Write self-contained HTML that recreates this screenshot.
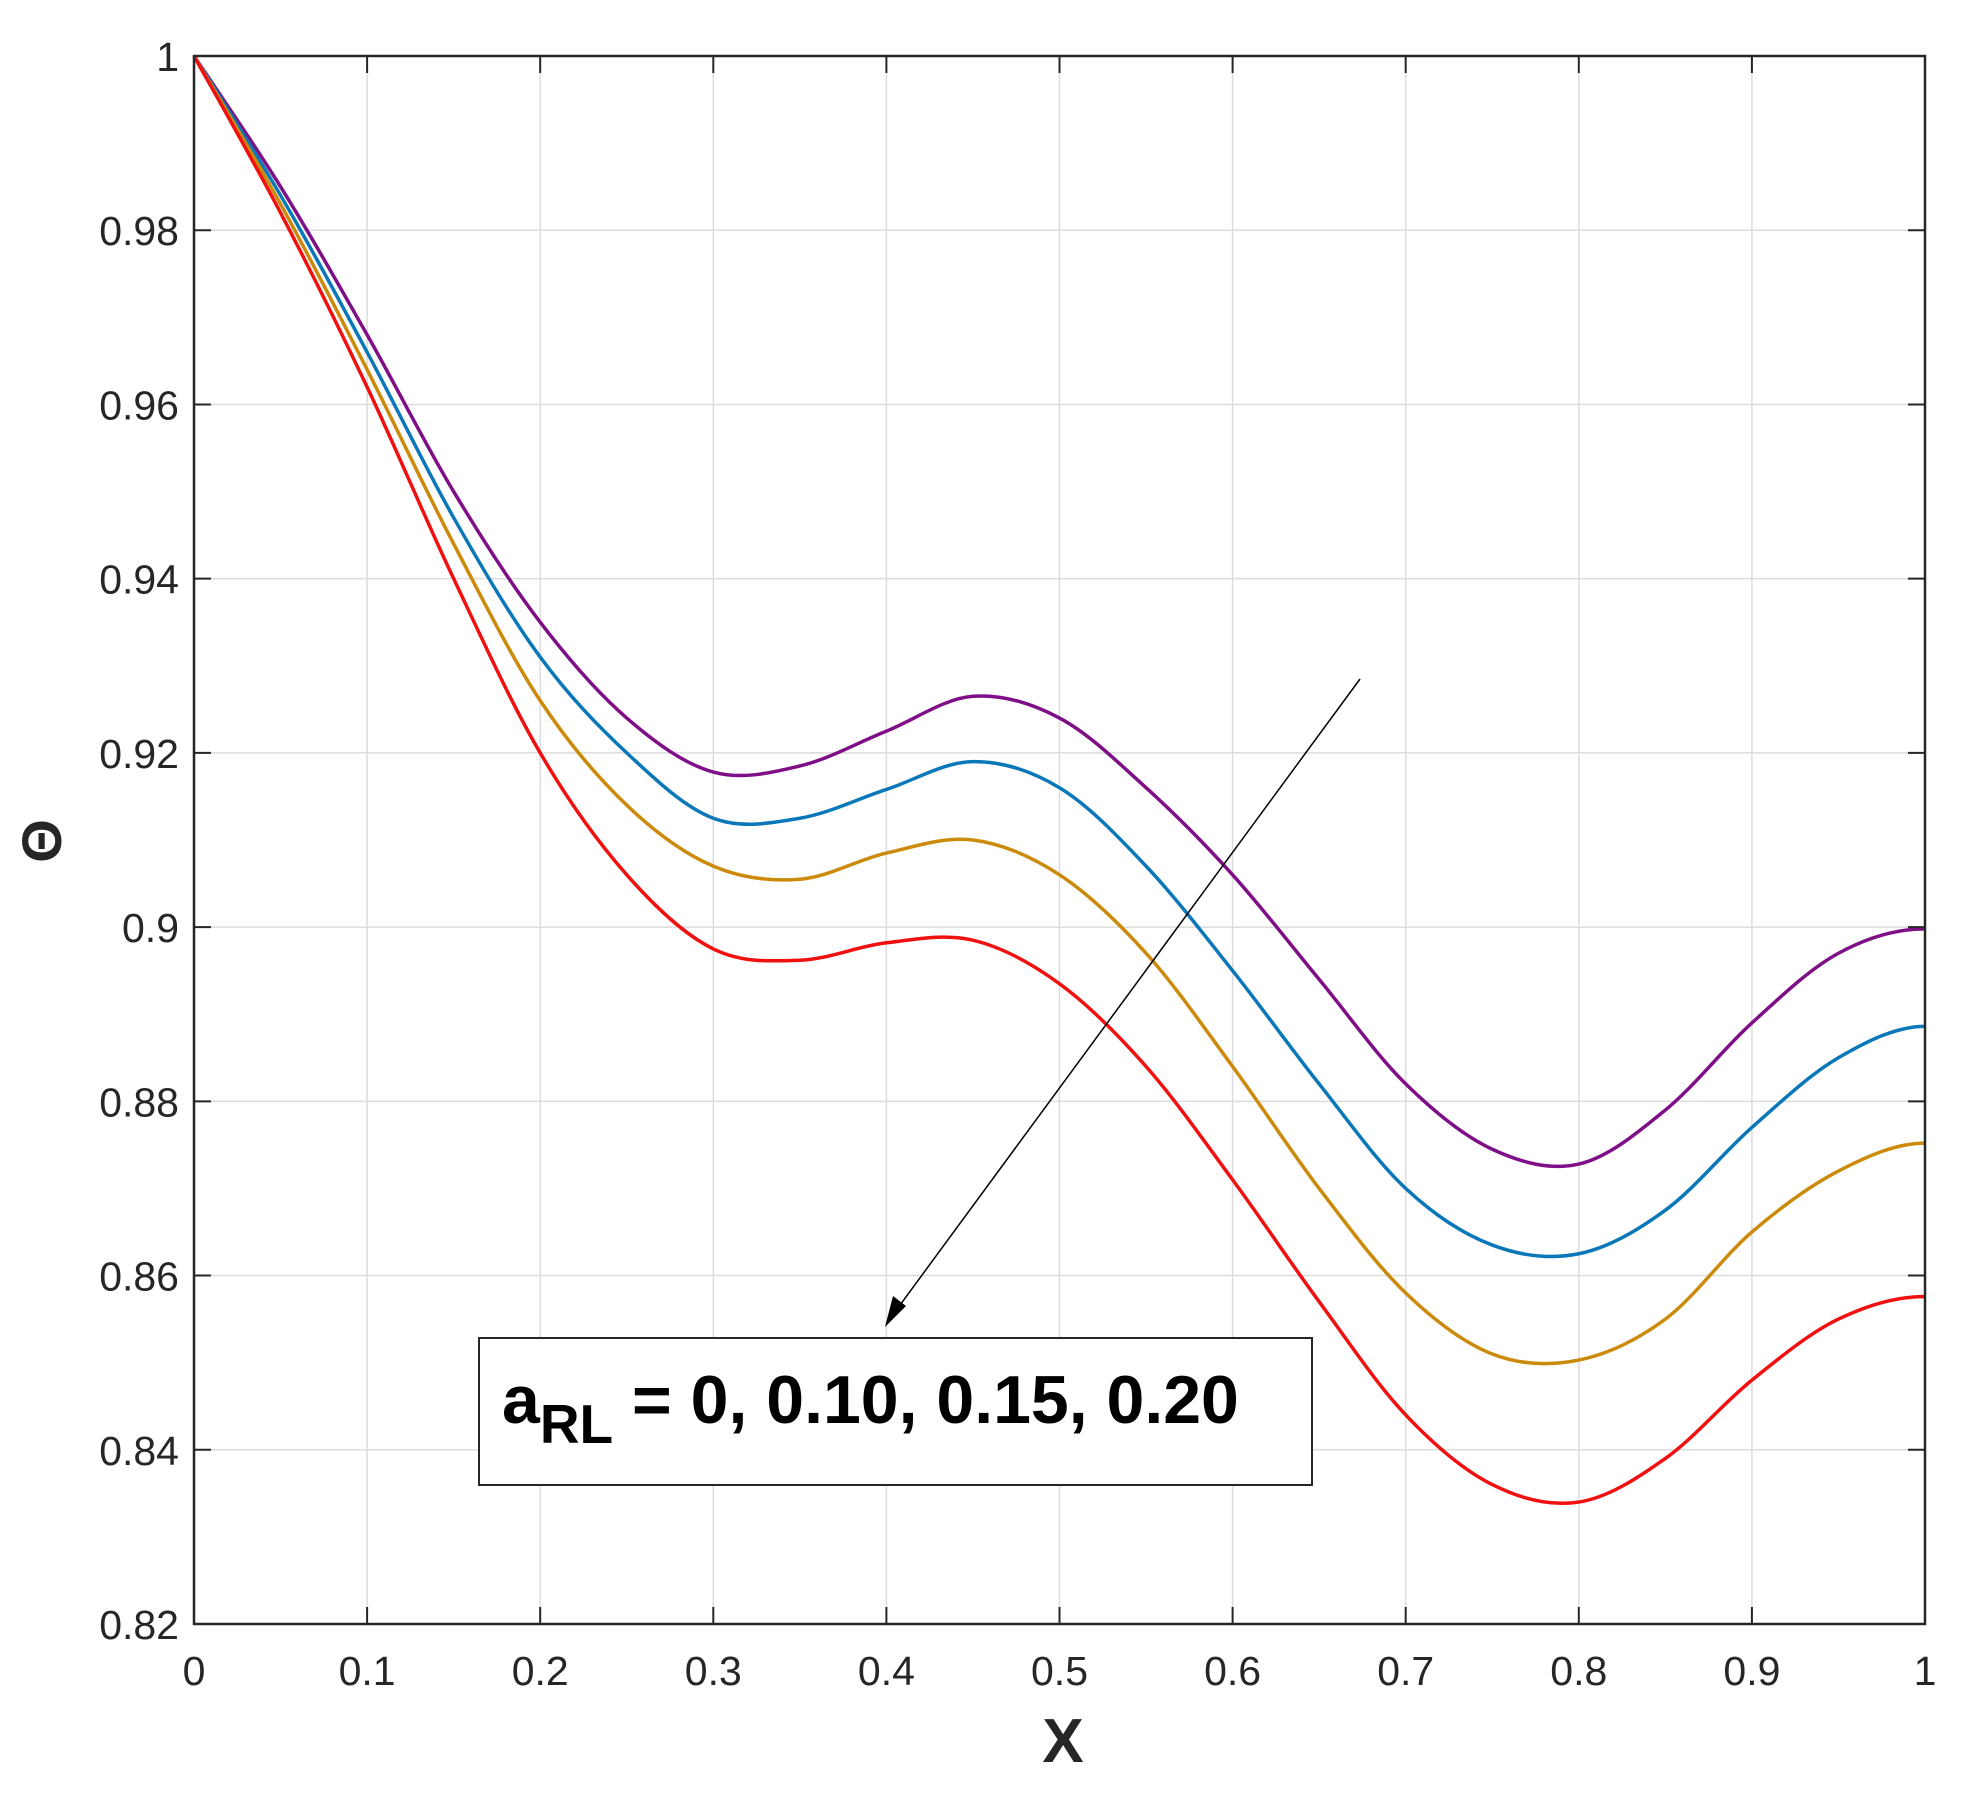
<!DOCTYPE html>
<html><head><meta charset="utf-8"><style>
body{margin:0;background:#fff}
svg{display:block;font-family:"Liberation Sans",sans-serif}
</style></head><body>
<svg id="s" width="1979" height="1793" viewBox="0 0 1979 1793" xmlns="http://www.w3.org/2000/svg">
<rect width="1979" height="1793" fill="#fff"/>
<g id="grid"></g>
<g id="curves" fill="none" stroke-width="3.5"></g>
<rect x="194" y="56" width="1731" height="1568" fill="none" stroke="#262626" stroke-width="2.5"/>
<g id="ticks"></g>
<line x1="1360" y1="679" x2="889" y2="1320" stroke="#000" stroke-width="1.5"/>
<polygon points="885,1327 893,1296 906,1306" fill="#000"/>
<rect x="479" y="1338" width="833" height="147" fill="#fff" stroke="#262626" stroke-width="2"/>
<text x="502" y="1423" font-size="68" font-weight="bold" fill="#000">a<tspan dy="20" font-size="55">RL</tspan><tspan dy="-20"> = 0, 0.10, 0.15, 0.20</tspan></text>
<text x="1063" y="1762" font-size="62" font-weight="bold" text-anchor="middle" fill="#262626">X</text>
<text x="46" y="841" font-size="56" font-weight="bold" text-anchor="middle" fill="#262626" transform="rotate(-90 46 841)" dominant-baseline="middle">Θ</text>
</svg>
<script>
var L=194,R=1925,T=56,B=1624;
function X(v){return L+v*(R-L)}
function Y(v){return B-(v-0.82)/0.18*(B-T)}
var g='',t='';
for(var i=0;i<=10;i++){var x=X(i/10);
 if(i>0&&i<10)g+='<line x1="'+x+'" y1="'+T+'" x2="'+x+'" y2="'+B+'" stroke="#dcdcdc" stroke-width="1.5"/>';
 t+='<line x1="'+x+'" y1="'+B+'" x2="'+x+'" y2="'+(B-17)+'" stroke="#262626" stroke-width="2"/>';
 t+='<line x1="'+x+'" y1="'+T+'" x2="'+x+'" y2="'+(T+17)+'" stroke="#262626" stroke-width="2"/>';
 var lb=i==0?'0':i==10?'1':'0.'+i;
 t+='<text x="'+x+'" y="'+(B+61)+'" font-size="41" text-anchor="middle" fill="#262626">'+lb+'</text>';}
for(var j=0;j<=9;j++){var v=0.82+j*0.02,y=Y(v);
 if(j>0&&j<9)g+='<line x1="'+L+'" y1="'+y+'" x2="'+R+'" y2="'+y+'" stroke="#dcdcdc" stroke-width="1.5"/>';
 t+='<line x1="'+L+'" y1="'+y+'" x2="'+(L+17)+'" y2="'+y+'" stroke="#262626" stroke-width="2"/>';
 t+='<line x1="'+R+'" y1="'+y+'" x2="'+(R-17)+'" y2="'+y+'" stroke="#262626" stroke-width="2"/>';
 var lb=j==9?'1':(j==4?'0.9':v.toFixed(2));
 t+='<text x="'+(L-15)+'" y="'+(y+15)+'" font-size="41" text-anchor="end" fill="#262626">'+lb+'</text>';}
document.getElementById('grid').innerHTML=g;
document.getElementById('ticks').innerHTML=t;
var D=[
['#7e0f86',[1,.985,.968,.950,.935,.924,.9178,.9185,.9225,.9265,.924,.916,.906,.894,.882,.8745,.8728,.879,.889,.897,.8998]],
['#0a78b8',[1,.984,.966,.947,.931,.920,.9125,.9125,.9158,.919,.916,.907,.895,.882,.870,.8635,.8625,.8675,.877,.885,.8886]],
['#cc8a0a',[1,.983,.964,.944,.926,.914,.907,.9055,.9085,.910,.906,.897,.884,.870,.858,.851,.8503,.855,.865,.872,.8752]],
['#f01010',[1,.982,.962,.940,.920,.906,.8975,.8962,.8982,.8985,.8935,.884,.871,.857,.844,.836,.8340,.839,.848,.855,.8576]]];
var c='';
D.forEach(function(s){var p=s[1].map(function(q,k){return[X(k*0.05),Y(q)]});
 var n=p.length;p.push([2*p[n-1][0]-p[n-2][0],p[n-2][1]]);
 var d='M'+p[0][0]+','+p[0][1];
 for(var i=0;i<n-1;i++){var p0=p[Math.max(0,i-1)],p1=p[i],p2=p[i+1],p3=p[i+2];
  var c1x=p1[0]+(p2[0]-p0[0])/6,c1y=p1[1]+(p2[1]-p0[1])/6,c2x=p2[0]-(p3[0]-p1[0])/6,c2y=p2[1]-(p3[1]-p1[1])/6;
  d+=' C'+c1x+','+c1y+' '+c2x+','+c2y+' '+p2[0]+','+p2[1];}
 c+='<path d="'+d+'" stroke="'+s[0]+'"/>';});
document.getElementById('curves').innerHTML=c;
</script>
</body></html>
